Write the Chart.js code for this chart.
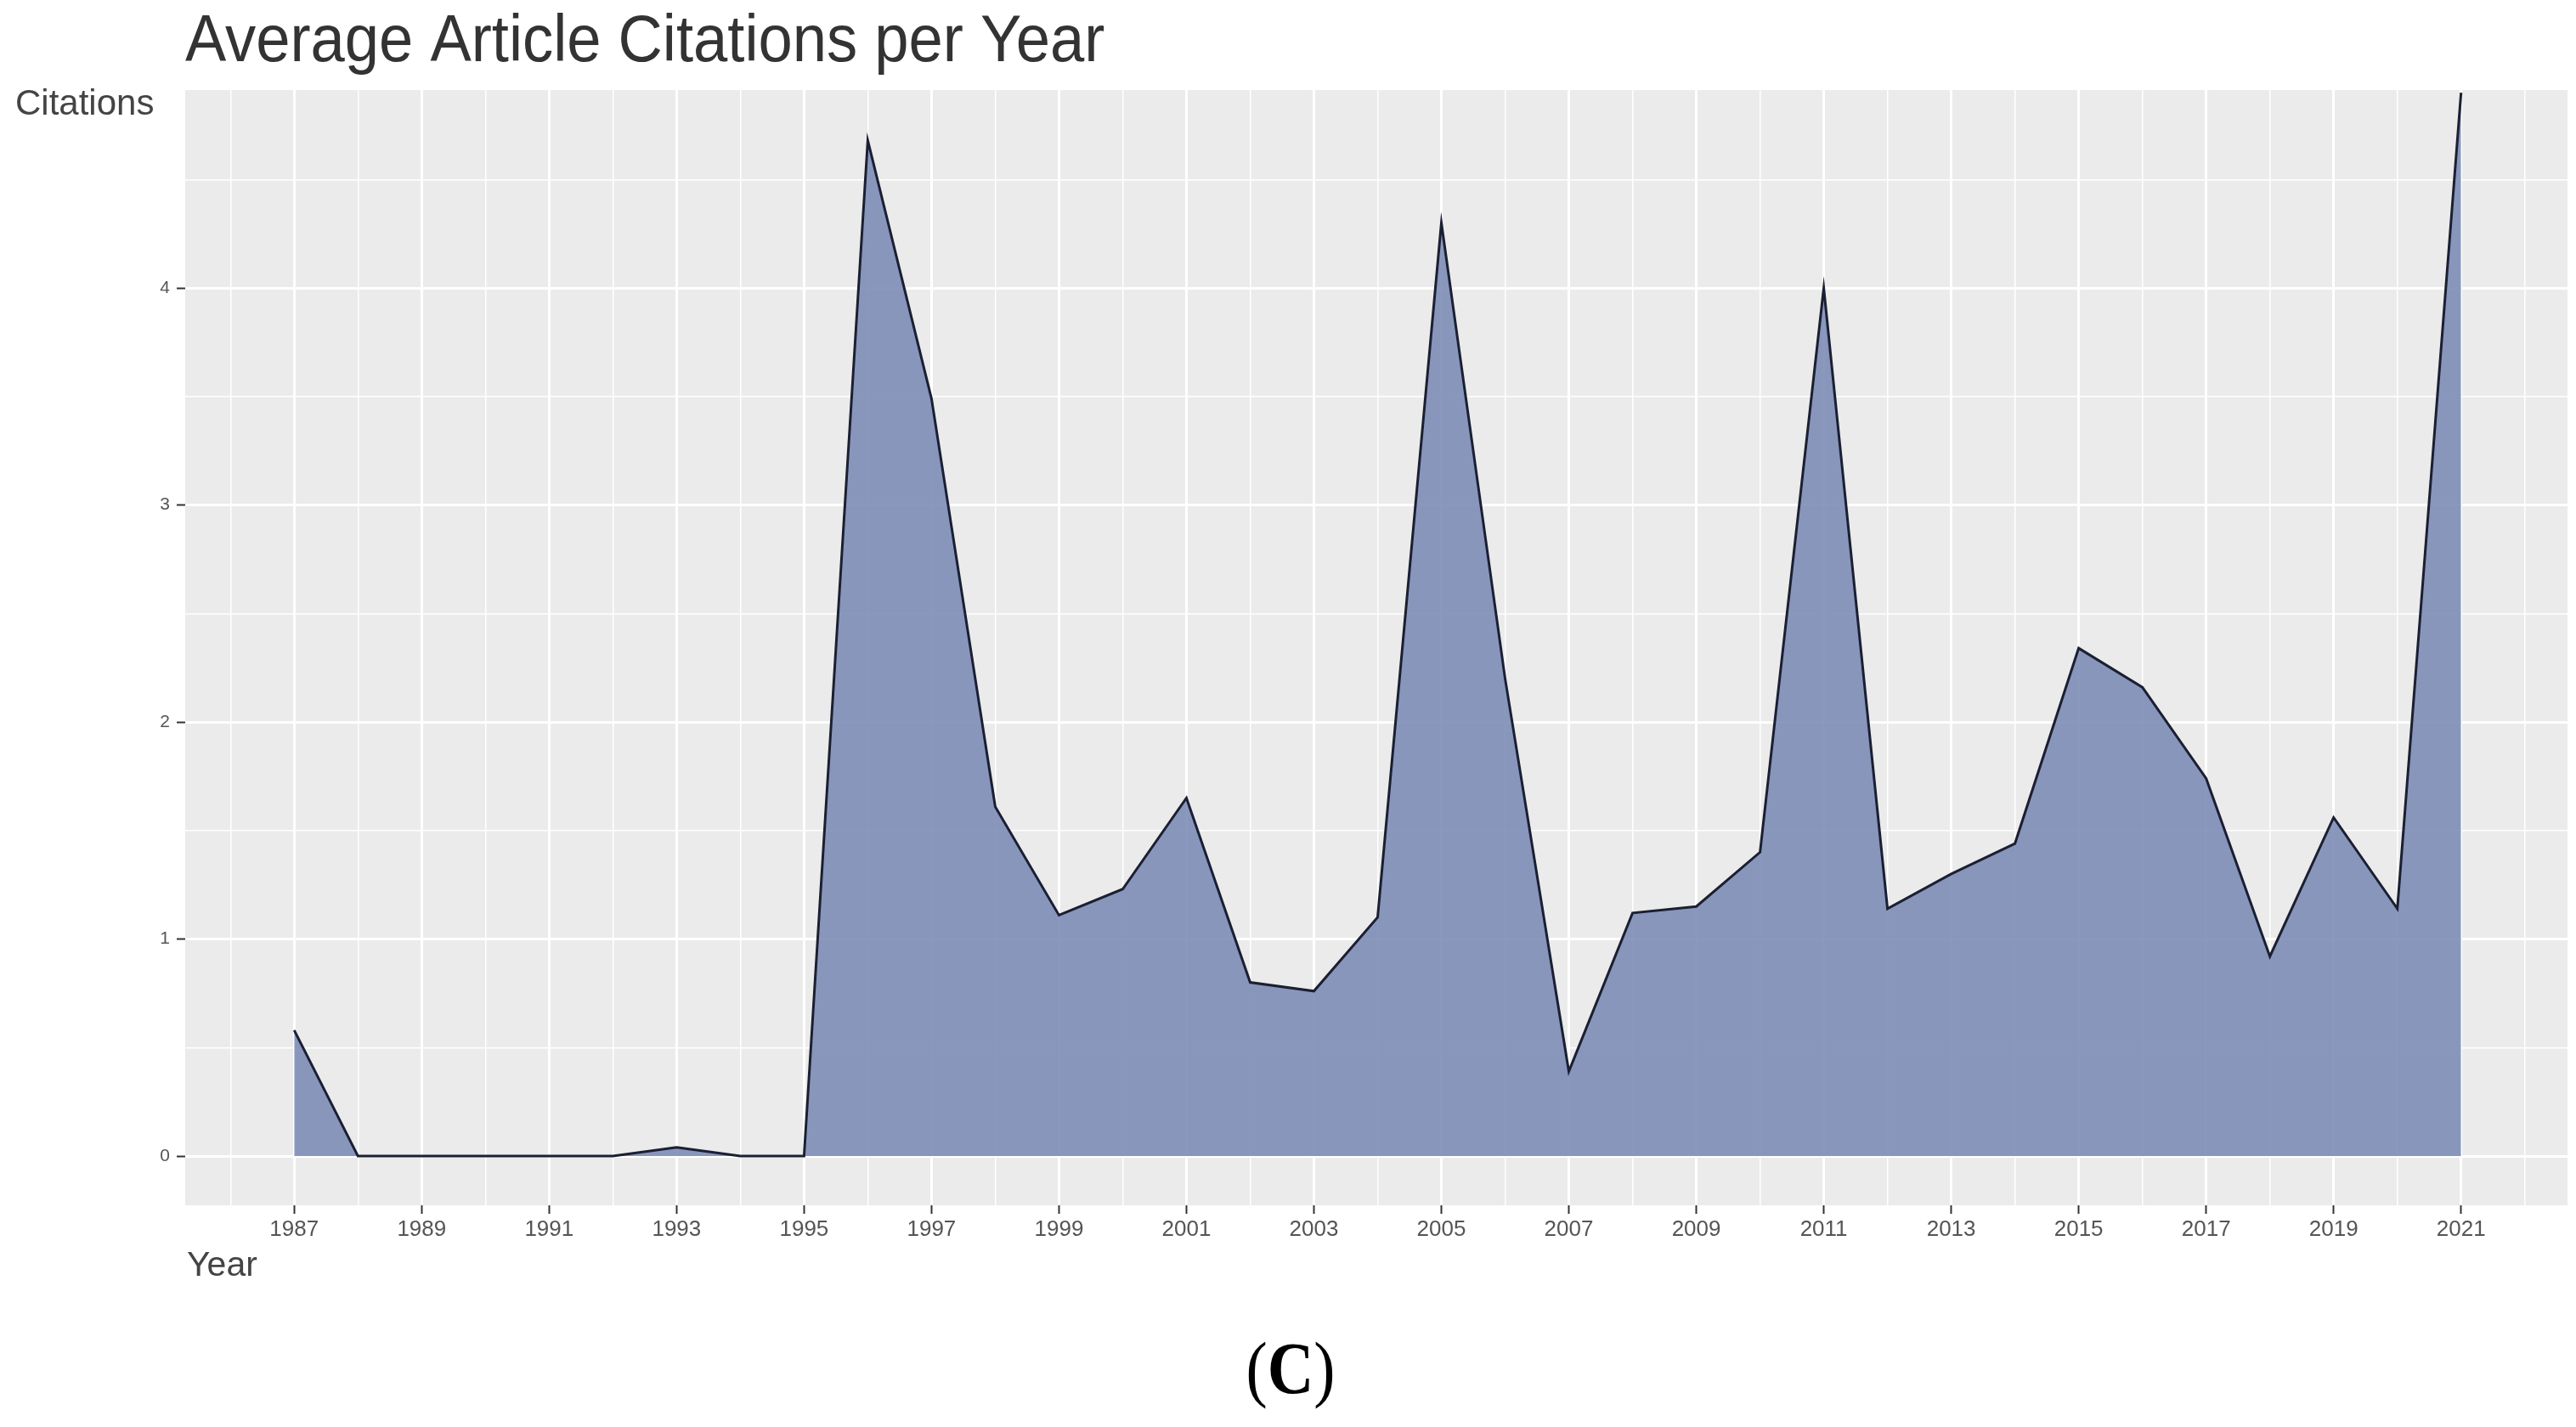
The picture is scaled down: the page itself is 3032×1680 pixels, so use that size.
<!DOCTYPE html>
<html lang="en">
<head>
<meta charset="UTF-8">
<title>Average Article Citations per Year</title>
<script src="https://cdn.jsdelivr.net/npm/chart.js"></script>
<style>
  html, body { margin: 0; padding: 0; background: #fff; }
  .wrap { position: relative; width: 3032px; height: 1680px; }
  .panel-tag {
    position: absolute; left: 1319px; top: 1568px; width: 400px;
    text-align: center; color: #000;
    font-family: 'Liberation Serif', 'DejaVu Serif', serif;
    font-size: 86px; line-height: 86px;
    transform: scaleX(0.88);
  }
</style>
</head>
<body>
<div class="wrap">
  <canvas id="citationsChart" width="3032" height="1680"></canvas>
  <div class="panel-tag">(<b>C</b>)</div>
</div>

<script>
  const years = [1987, 1988, 1989, 1990, 1991, 1992, 1993, 1994, 1995, 1996,
                 1997, 1998, 1999, 2000, 2001, 2002, 2003, 2004, 2005, 2006,
                 2007, 2008, 2009, 2010, 2011, 2012, 2013, 2014, 2015, 2016,
                 2017, 2018, 2019, 2020, 2021];
  const citations = [0.58, 0, 0, 0, 0, 0, 0.04, 0, 0, 4.68,
                     3.49, 1.61, 1.11, 1.23, 1.65, 0.80, 0.76, 1.10, 4.30, 2.20,
                     0.39, 1.12, 1.15, 1.40, 4.00, 1.14, 1.30, 1.44, 2.34, 2.16,
                     1.74, 0.92, 1.56, 1.14, 4.90];
  const xLabelYears = [1987, 1989, 1991, 1993, 1995, 1997, 1999, 2001, 2003,
                       2005, 2007, 2009, 2011, 2013, 2015, 2017, 2019, 2021];
  const yLabelValues = [0, 1, 2, 3, 4];

  const titleText = 'Average Article Citations per Year';
  const yTitle = 'Citations';
  const xTitle = 'Year';

  // grid positions: labelled breaks plus the minor lines half way between them
  const xGrid = [];
  for (let y = xLabelYears[0] - 1; y <= xLabelYears[xLabelYears.length - 1] + 1; y++) xGrid.push(y);
  const yGrid = [];
  for (let v = 0; v <= yLabelValues[yLabelValues.length - 1] + 0.5; v += 0.5) yGrid.push(v);

  const panelBg = {
    id: 'panelBg',
    beforeDraw(chart) {
      const { ctx, chartArea: a } = chart;
      ctx.save();
      ctx.fillStyle = '#ebebeb';
      ctx.fillRect(a.left, a.top, a.right - a.left, a.bottom - a.top);
      ctx.restore();
    }
  };

  const textLabels = {
    id: 'textLabels',
    afterDraw(chart) {
      const { ctx, chartArea: a } = chart;
      ctx.save();
      ctx.textBaseline = 'alphabetic';
      ctx.textAlign = 'left';

      ctx.fillStyle = '#333';
      ctx.font = '77px "Liberation Sans", Arial, sans-serif';
      ctx.save();
      ctx.translate(a.left, 72);
      ctx.scale(0.94, 1);
      ctx.fillText(titleText, 0, 0);
      ctx.restore();

      ctx.fillStyle = '#444';
      ctx.font = '42px "Liberation Sans", Arial, sans-serif';
      ctx.fillText(yTitle, 18, 135);

      ctx.font = '41px "Liberation Sans", Arial, sans-serif';
      ctx.fillText(xTitle, a.left + 2, 1502);
      ctx.restore();
    }
  };

  const isMajorX = v => xLabelYears.includes(v);
  const isMajorY = v => yLabelValues.includes(v);

  const ctx = document.getElementById('citationsChart').getContext('2d');

  const citationsChart = new Chart(ctx, {
    type: 'line',
    data: {
      datasets: [{
        data: years.map((yr, i) => ({ x: yr, y: citations[i] })),
        fill: 'origin',
        backgroundColor: 'rgba(125, 141, 182, 0.9)',
        borderColor: '#1b1f33',
        borderWidth: 3,
        pointRadius: 0,
        tension: 0
      }]
    },
    options: {
      responsive: false,
      animation: false,
      layout: {
        padding: { top: 106, right: 10, bottom: 201, left: 0 }
      },
      scales: {
        x: {
          type: 'linear',
          min: 1985.29,
          max: 2022.67,
          afterBuildTicks: axis => { axis.ticks = xGrid.map(v => ({ value: v })); },
          afterFit: axis => { axis.height = 60; },
          border: { display: false },
          grid: {
            color: '#ffffff',
            lineWidth: c => (c.tick && isMajorX(c.tick.value)) ? 3 : 1.5,
            tickColor: c => (c.tick && isMajorX(c.tick.value)) ? '#333' : 'rgba(0,0,0,0)',
            tickWidth: 2,
            tickLength: 10
          },
          ticks: {
            autoSkip: false,
            maxRotation: 0,
            padding: 3,
            color: '#555',
            font: { family: '"Liberation Sans", Arial, sans-serif', size: 26 },
            callback: value => isMajorX(value) ? String(value) : ''
          }
        },
        y: {
          min: -0.227,
          max: 4.912,
          afterBuildTicks: axis => { axis.ticks = yGrid.map(v => ({ value: v })); },
          afterFit: axis => { axis.width = 218; },
          border: { display: false },
          grid: {
            color: '#ffffff',
            lineWidth: c => (c.tick && isMajorY(c.tick.value)) ? 3 : 1.5,
            tickColor: c => (c.tick && isMajorY(c.tick.value)) ? '#333' : 'rgba(0,0,0,0)',
            tickWidth: 2,
            tickLength: 10
          },
          ticks: {
            autoSkip: false,
            padding: 8,
            color: '#555',
            font: { family: '"Liberation Sans", Arial, sans-serif', size: 21 },
            callback: value => isMajorY(value) ? String(value) : ''
          }
        }
      },
      plugins: {
        legend: { display: false },
        tooltip: { enabled: false },
        title: { display: false }
      }
    },
    plugins: [panelBg, textLabels]
  });
</script>
</body>
</html>
